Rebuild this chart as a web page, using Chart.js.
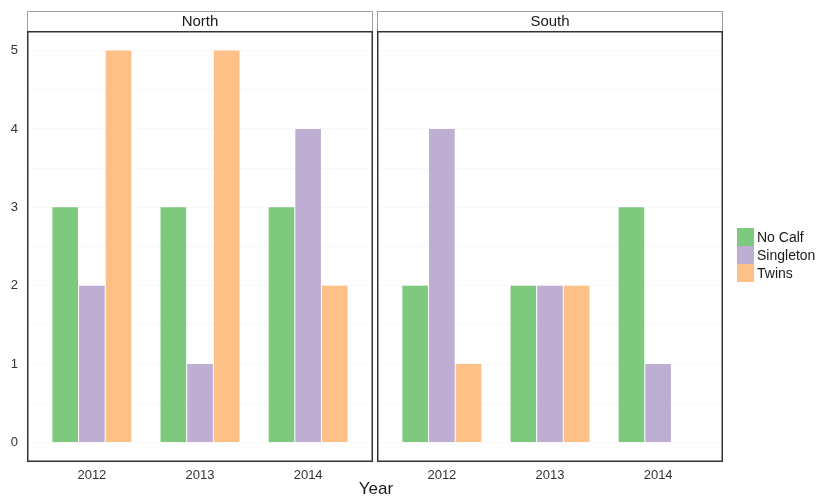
<!DOCTYPE html>
<html>
<head>
<meta charset="utf-8">
<script src="https://cdn.jsdelivr.net/npm/chart.js@4.4.0/dist/chart.umd.min.js"></script>
<style>
  body { margin: 0; background: #fff; }
  #wrap { position: relative; width: 820px; height: 499px; font-family: "Liberation Sans", Arial, sans-serif; }
  canvas { position: absolute; top: 0; }
  #legend { position: absolute; left: 737px; top: 228px; }
  .key { display: flex; align-items: center; height: 18px; }
  .key span.sw { width: 17px; height: 18px; display: inline-block; }
  .key span.lb { margin-left: 3px; font-size: 14px; color: #1a1a1a; }
  #xtitle { position: absolute; left: 0; width: 752px; top: 479px; text-align: center; font-size: 17px; color: #1a1a1a; }
</style>
</head>
<body>
<div id="wrap">
  <canvas id="north" width="375" height="499" style="left:0"></canvas>
  <canvas id="south" width="445" height="499" style="left:375px"></canvas>
  <div id="legend"></div>
  <div id="xtitle">Year</div>
</div>
<script>
const years = ['2012', '2013', '2014'];
const seriesNames = ['No Calf', 'Singleton', 'Twins'];
const seriesColors = ['#7fc97f', '#beaed4', '#fdc086'];

const northNoCalf = [3, 3, 3];
const northSingleton = [2, 1, 4];
const northTwins = [5, 5, 2];

const southNoCalf = [2, 2, 3];
const southSingleton = [4, 2, 1];
const southTwins = [1, 2, 0];

const font = '"Liberation Sans", Arial, sans-serif';

// frame + strip header for each facet
const facetFrame = {
    id: 'facetFrame',
    afterDraw(chart, args, opts) {
        const { ctx, chartArea: a } = chart;
        ctx.save();
        ctx.strokeStyle = '#a0a0a0';
        ctx.lineWidth = 1;
        ctx.strokeRect(a.left + 0.5, 11.5, a.right - a.left - 1, a.top - 11);
        ctx.strokeStyle = '#333';
        ctx.lineWidth = 1.5;
        ctx.strokeRect(a.left + 0.75, a.top + 0.75, a.right - a.left - 1.5, a.bottom - a.top - 1.5);
        ctx.fillStyle = '#1a1a1a';
        ctx.font = '15px ' + font;
        ctx.textAlign = 'center';
        ctx.textBaseline = 'middle';
        ctx.fillText(opts.title, (a.left + a.right) / 2, 21.5);
        ctx.restore();
    }
};

function makePanel(id, title, values, showY, pad) {
    const datasets = values.map((vals, i) => ({
        label: seriesNames[i],
        data: vals.map((v, j) => ({ x: j + 1, y: v })),
        backgroundColor: seriesColors[i],
        borderWidth: 0,
        categoryPercentage: 0.74,
        barPercentage: 0.96
    }));

    return new Chart(document.getElementById(id), {
        type: 'bar',
        data: { datasets },
        plugins: [facetFrame],
        options: {
            responsive: false,
            animation: false,
            devicePixelRatio: 1,
            layout: { padding: pad },
            plugins: {
                legend: { display: false },
                tooltip: { enabled: false },
                facetFrame: { title }
            },
            scales: {
                x: {
                    type: 'linear',
                    min: 0.4,
                    max: 3.6,
                    offset: false,
                    afterBuildTicks: s => { s.ticks = years.map((y, i) => ({ value: i + 1 })); },
                    afterFit: s => { s.height = 37; },
                    grid: { display: false, drawTicks: false },
                    border: { display: false },
                    ticks: {
                        callback: v => years[v - 1],
                        autoSkip: false,
                        maxRotation: 0,
                        padding: 6,
                        color: '#333',
                        font: { family: font, size: 13 }
                    }
                },
                y: {
                    min: -0.25,
                    max: 5.25,
                    afterBuildTicks: s => {
                        const t = [];
                        for (let v = 0; v <= 5; v += 0.5) t.push({ value: v });
                        s.ticks = t;
                    },
                    afterFit: s => { s.width = showY ? 27 : 0; },
                    grid: { color: '#f8f8f8', drawTicks: false },
                    border: { display: false },
                    ticks: {
                        display: showY,
                        callback: v => (Number.isInteger(v) ? String(v) : ''),
                        padding: 9,
                        color: '#333',
                        font: { family: font, size: 13 }
                    }
                }
            }
        }
    });
}

makePanel('north', 'North', [northNoCalf, northSingleton, northTwins], true,
    { left: 0, top: 31, right: 2, bottom: 0 });
makePanel('south', 'South', [southNoCalf, southSingleton, southTwins], false,
    { left: 2, top: 31, right: 97, bottom: 0 });

// legend
const legend = document.getElementById('legend');
seriesNames.forEach((name, i) => {
    const row = document.createElement('div');
    row.className = 'key';
    row.innerHTML = '<span class="sw" style="background:' + seriesColors[i] + '"></span><span class="lb">' + name + '</span>';
    legend.appendChild(row);
});
</script>
</body>
</html>
